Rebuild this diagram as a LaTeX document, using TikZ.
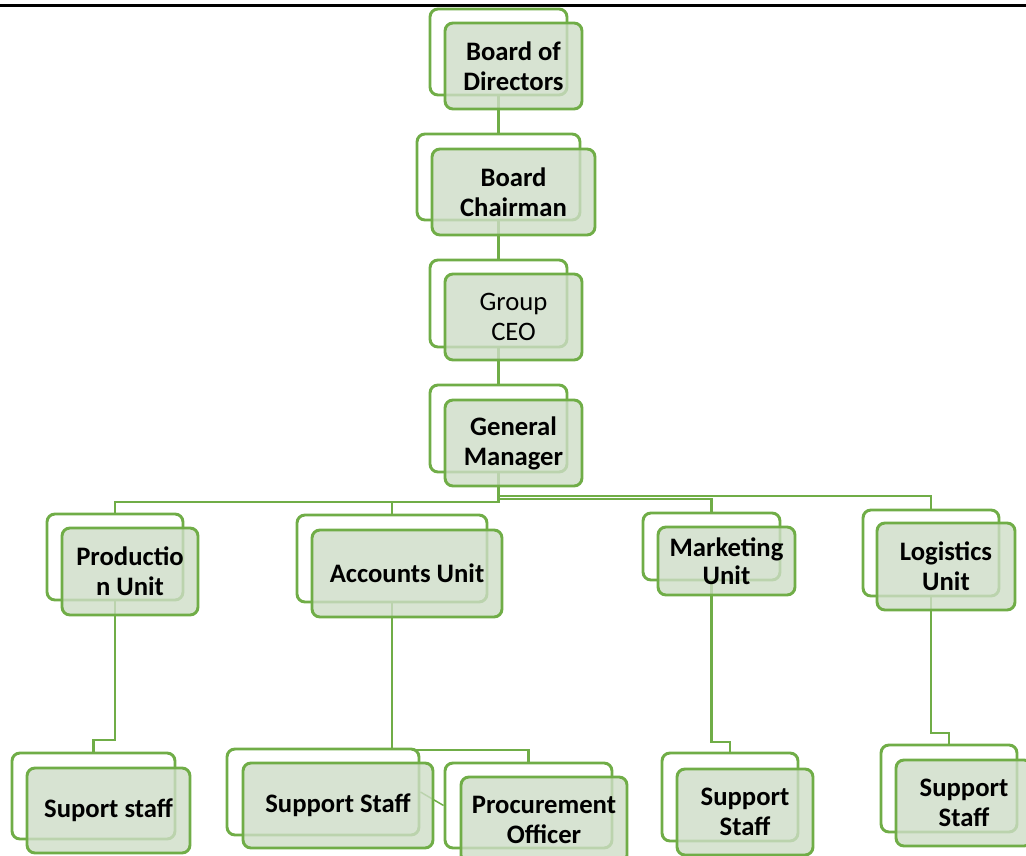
\documentclass[tikz,border=0pt]{standalone}
\usepackage{fontspec}
\setmainfont{Carlito}
\definecolor{orgline}{RGB}{112,173,71}
\definecolor{orgfill}{RGB}{206,221,199}
\pgfdeclarelayer{links}
\pgfsetlayers{links,main}
\begin{document}
\begin{tikzpicture}[x=0.75pt,y=-0.75pt,
  backbox/.style={draw=orgline, line width=2.2pt, rounded corners=6pt, fill=white, inner sep=0pt},
  frontbox/.style={draw=orgline, line width=2.2pt, rounded corners=6pt, fill=orgfill,
    fill opacity=0.8, text opacity=1, align=center, inner sep=0pt,
    font=\fontsize{20}{22.5}\selectfont\bfseries},
  plaintext/.style={font=\fontsize{20}{22.5}\selectfont},
  tighttext/.style={font=\fontsize{20}{21}\selectfont\bfseries},
  wh/.style 2 args={minimum width=#1*0.75pt, minimum height=#2*0.75pt},
  link/.style={draw=orgline, line width=1.9pt},
  thinlink/.style={draw=orgline, line width=1.1pt},
]
\useasboundingbox (0,0) rectangle (1026,856);
\clip (0,0) rectangle (1026,856);

% page rule
\draw[line width=1.9pt] (0,5.5) -- (1026,5.5);

% executive chain
\node[backbox, wh={137}{86}] (bodB) at (498.5,52) {};
\node[frontbox, wh={137}{86}] (bodF) at (513.5,66) {Board of\\Directors};
\node[backbox, wh={163}{86}] (chB) at (498.5,177) {};
\node[frontbox, wh={163}{86}] (chF) at (513.5,192) {Board\\Chairman};
\node[backbox, wh={137}{87}] (ceoB) at (498.5,303.5) {};
\node[frontbox, plaintext, wh={137}{86}] (ceoF) at (513.5,317) {Group\\CEO};
\node[backbox, wh={137}{87}] (gmB) at (498.5,428.5) {};
\node[frontbox, wh={137}{86}] (gmF) at (513.5,443) {General\\Manager};

% units
\node[backbox, wh={136}{86}] (prodB) at (115,557) {};
\node[frontbox, wh={136}{87}] (prodF) at (130,571.5) {Productio\\n Unit};
\node[backbox, wh={190}{87}] (accB) at (392,558.5) {};
\node[frontbox, wh={190}{87}] (accF) at (407,573.5) {Accounts Unit};
\node[backbox, wh={137}{67}] (mktB) at (711.5,546.5) {};
\node[frontbox, tighttext, wh={137}{68}] (mktF) at (726.5,561) {Marketing\\Unit};
\node[backbox, wh={136}{86}] (logB) at (931,553) {};
\node[frontbox, wh={138}{87}] (logF) at (946,566.5) {Logistics\\Unit};

% staff
\node[backbox, wh={163}{86}] (ss1B) at (93.5,796) {};
\node[frontbox, wh={163}{85}] (ss1F) at (108.5,810.5) {Suport staff};
\node[backbox, wh={192}{86}] (ss2B) at (323,792) {};
\node[frontbox, wh={190}{85}] (ss2F) at (338,805.5) {Support Staff};
\node[backbox, wh={167}{85}] (procB) at (528.5,805.5) {};
\node[frontbox, wh={166}{86}] (procF) at (544,820) {Procurement\\Officer};
\node[backbox, wh={136}{88}] (ss3B) at (730,797) {};
\node[frontbox, wh={136}{86}] (ss3F) at (745,812) {Support\\Staff};
\node[backbox, wh={136}{87}] (ss4B) at (949,788.5) {};
\node[frontbox, wh={136}{86}] (ss4F) at (964,803) {Support\\Staff};

% bus levels and jogs
\coordinate (busA) at (0,502);
\coordinate (busM) at (0,499);
\coordinate (busL) at (0,496);
\coordinate (jogP) at (0,740);
\coordinate (jogS) at (0,750);
\coordinate (jogM) at (0,742);
\coordinate (jogL) at (0,733);

\begin{pgfonlayer}{links}
  \draw[link] (bodB.south) -- (chB.north);
  \draw[link] (chB.south) -- (ceoB.north);
  \draw[link] (ceoB.south) -- (gmB.north);
  \draw[link] (gmB.south) -- (gmB.south |- busA) -| (prodB.north);
  \draw[link] (gmB.south |- busA) -| (accB.north);
  \draw[link] (gmB.south |- busM) -| (mktB.north);
  \draw[link] (gmB.south |- busL) -| (logB.north);
  \draw[link] (prodB.south) -- (prodB.south |- jogP) -| (ss1B.north);
  \draw[link] (accB.south) -- (accB.south |- ss2B.north);
  \draw[link] (accB.south |- jogS) -| (procB.north);
  \draw[link] (mktB.south) -- (mktB.south |- jogM) -| (ss3B.north);
  \draw[link] (logB.south) -- (logB.south |- jogL) -| (ss4B.north);
  \draw[thinlink] (ss2B.east) -- (procB.west);
\end{pgfonlayer}
\end{tikzpicture}
\end{document}
